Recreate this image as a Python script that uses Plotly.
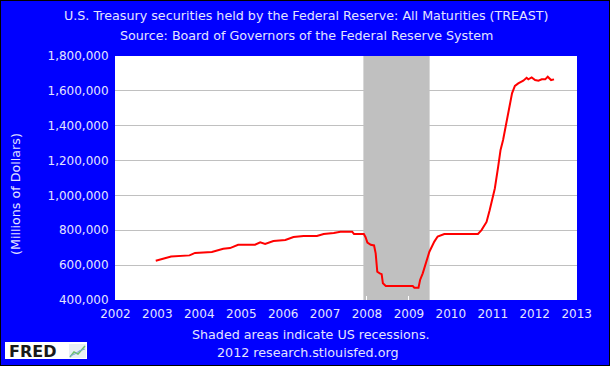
import plotly.graph_objects as go

# ---- data (millions of dollars) ----
dates = [
    "2002-12-18", "2003-05-01", "2003-10-08", "2003-11-25", "2004-04-20", "2004-07-28",
    "2004-09-25", "2004-12-05", "2005-05-01", "2005-06-15", "2005-07-28", "2005-10-08",
    "2006-01-20", "2006-04-01", "2006-06-28", "2006-10-22", "2006-12-20", "2007-03-18",
    "2007-05-15", "2007-08-25", "2007-09-10", "2007-12-05", "2007-12-20", "2008-01-05",
    "2008-02-03", "2008-03-03", "2008-03-17", "2008-03-31", "2008-04-22", "2008-05-08",
    "2008-05-19", "2008-06-13", "2009-02-03", "2009-02-17", "2009-03-25", "2009-04-08",
    "2009-05-01", "2009-05-30", "2009-06-28", "2009-08-10", "2009-09-08", "2009-11-05",
    "2010-08-25", "2010-09-25", "2010-11-08", "2010-12-05", "2011-01-04", "2011-01-19",
    "2011-02-17", "2011-03-10", "2011-04-01", "2011-04-30", "2011-05-30", "2011-06-18",
    "2011-07-13", "2011-08-11", "2011-09-24", "2011-10-23", "2011-11-07", "2011-12-06",
    "2012-01-05", "2012-02-03", "2012-03-03", "2012-04-02", "2012-04-24", "2012-05-23",
    "2012-06-18",
]
values = [
    625000, 650000, 656000, 670000, 675000, 694000,
    698000, 717000, 717000, 731000, 721000, 738000,
    744000, 761000, 767000, 767000, 779000, 784000,
    792000, 792000, 779000, 779000, 760000, 730000,
    717000, 713000, 668000, 562000, 553000, 548000,
    496000, 480000, 480000, 471000, 471000, 515000,
    553000, 620000, 677000, 735000, 764000, 779000,
    779000, 801000, 848000, 915000, 1011000, 1040000,
    1164000, 1261000, 1318000, 1423000, 1519000, 1586000,
    1628000, 1643000, 1658000, 1675000, 1666000, 1677000,
    1662000, 1658000, 1666000, 1666000, 1681000, 1662000,
    1666000,
]
recession_start = "2007-12-01"
recession_end = "2009-06-30"
year_ticks = [f"{y}-01-01" for y in range(2002, 2014)]
year_labels = [str(y) for y in range(2002, 2014)]
y_ticks = [400000, 600000, 800000, 1000000, 1200000, 1400000, 1600000, 1800000]

# ---- geometry ----
W, H = 610, 366
L, R, T, B = 115, 577, 56, 300
PW, PH = R - L, B - T


def px(x):
    return (x - L) / PW


def py(y):
    return (B - y) / PH


BLUE = "#0000ff"
TXT = "#e4e4ff"
FONT = "DejaVu Sans"
ANN_SIZE = 12.7

fig = go.Figure()
fig.add_trace(go.Scatter(x=dates, y=values, mode="lines",
                         line=dict(color="#ff0000", width=2), hoverinfo="skip"))

fig.add_vrect(x0=recession_start, x1=recession_end, fillcolor="#c0c0c0",
              opacity=1, line_width=0, layer="below")

fig.update_layout(
    width=W, height=H,
    margin=dict(l=L, r=W - R, t=T, b=H - B, pad=0),
    paper_bgcolor=BLUE, plot_bgcolor="#ffffff",
    showlegend=False,
    font=dict(family=FONT, size=12, color=TXT),
    xaxis=dict(type="date", range=["2001-12-28", "2013-01-04"],
               tickvals=year_ticks, ticktext=year_labels,
               ticks="inside", ticklen=4, tickcolor="#ffffff", tickwidth=1,
               ticklabelstandoff=5,
               showgrid=False, zeroline=False, showline=False,
               tickfont=dict(family=FONT, size=12, color=TXT)),
    yaxis=dict(range=[400000, 1800000], tickvals=y_ticks, tickformat=",d",
               showgrid=True, gridcolor="#c0c0c0", gridwidth=1,
               zeroline=False, showline=False, ticks="outside", ticklen=3,
               tickcolor=BLUE,
               tickfont=dict(family=FONT, size=12, color=TXT)),
)

ann = [
    dict(text="U.S. Treasury securities held by the Federal Reserve: All Maturities (TREAST)",
         x=px(306), y=py(15)),
    dict(text="Source: Board of Governors of the Federal Reserve System",
         x=px(306), y=py(36)),
    dict(text="Shaded areas indicate US recessions.", x=px(311), y=py(334)),
    dict(text="2012 research.stlouisfed.org", x=px(307), y=py(352)),
    dict(text="(Millions of Dollars)", x=px(15), y=py(194), textangle=-90),
]
for a in ann:
    fig.add_annotation(xref="paper", yref="paper", showarrow=False,
                       xanchor="center", yanchor="middle",
                       font=dict(family=FONT, size=ANN_SIZE, color=TXT), **a)

# FRED logo
fig.add_shape(type="rect", xref="paper", yref="paper",
              x0=px(5), x1=px(87), y0=py(359), y1=py(342),
              fillcolor="#ffffff", line=dict(width=0))
fig.add_annotation(xref="paper", yref="paper", showarrow=False,
                   text="<b>FRED</b>", x=px(7), y=py(351), xanchor="left", yanchor="middle",
                   font=dict(family=FONT, size=16, color="#1a1a1a"))
fig.add_shape(type="rect", xref="paper", yref="paper",
              x0=px(69), x1=px(86), y0=py(358), y1=py(344),
              fillcolor="#e8eef4", line=dict(width=0))
fig.add_shape(type="path", xref="paper", yref="paper",
              path=f"M {px(70)},{py(357)} L {px(74)},{py(352)} L {px(78)},{py(354)} L {px(85)},{py(346)}",
              line=dict(color="#6fbf6f", width=1.5))
fig.add_shape(type="path", xref="paper", yref="paper",
              path=f"M {px(70)},{py(356)} L {px(75)},{py(354)} L {px(79)},{py(351)} L {px(85)},{py(349)}",
              line=dict(color="#7fa8d8", width=1))

# outer border
fig.add_shape(type="rect", xref="paper", yref="paper",
              x0=px(0), x1=px(W), y0=py(H), y1=py(0),
              fillcolor="rgba(0,0,0,0)", line=dict(color="#000000", width=2))

fig.write_html("out.html", config={"displayModeBar": False},
               post_script="document.body.style.margin='0';document.body.style.background='#0000ff';")
